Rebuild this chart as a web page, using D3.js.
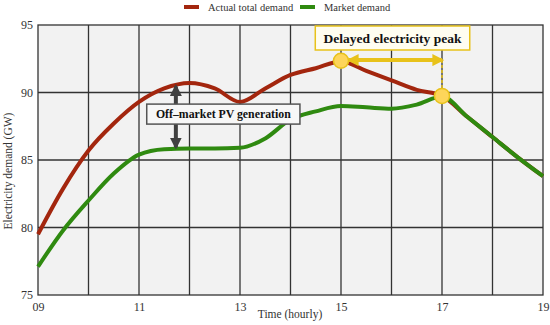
<!DOCTYPE html>
<html>
<head>
<meta charset="utf-8">
<script src="https://cdn.jsdelivr.net/npm/d3@7"></script>
<style>
  body { margin: 0; background: #fff; }
</style>
</head>
<body>
<svg width="550" height="325" style="font-family: 'Liberation Serif', 'Times New Roman', serif;"></svg>
<script>
// Data (hour, GW)
const hours = [9, 9.5, 10, 10.5, 11, 11.5, 12, 12.5, 13, 13.5, 14, 14.5, 15, 15.5, 16, 16.5, 17, 17.5, 18, 18.5, 19];
const actualDemand = [79.5, 82.9, 85.7, 87.7, 89.3, 90.3, 90.7, 90.3, 89.3, 90.3, 91.3, 91.8, 92.3, 91.6, 90.9, 90.2, 89.75, 88.2, 86.7, 85.2, 83.8];
const marketDemand = [77.1, 79.8, 82.0, 84.0, 85.4, 85.8, 85.85, 85.85, 85.9, 86.6, 88.0, 88.6, 89.0, 88.9, 88.8, 89.1, 89.7, 88.2, 86.7, 85.2, 83.8];
const xTickLabels = [9, 11, 13, 15, 17, 19];
const yTicks = [75, 80, 85, 90, 95];
const seriesNames = ["Actual total demand", "Market demand"];
const seriesColors = ["#a3260e", "#2f8a10"];
const peakPoints = [[15, 92.35], [17, 89.75]];

const FONT = "'Liberation Serif', 'Times New Roman', serif";

const svg = d3.select("svg"),
      margin = { top: 25, right: 7, bottom: 30, left: 38 },
      width = +svg.attr("width") - margin.left - margin.right,
      height = +svg.attr("height") - margin.top - margin.bottom;

const x = d3.scaleLinear().domain([9, 19]).range([0, width]);
const y = d3.scaleLinear().domain([75, 95]).range([height, 0]);

const g = svg.append("g").attr("transform", `translate(${margin.left},${margin.top})`);

// fond + grille
g.append("rect").attr("width", width).attr("height", height).attr("fill", "#f2f2f2");

g.append("g").selectAll("line")
  .data(d3.range(10, 19))
  .join("line")
  .attr("x1", d => x(d)).attr("x2", d => x(d))
  .attr("y1", 0).attr("y2", height)
  .attr("stroke", "#333").attr("stroke-width", 1.3);

g.append("g").selectAll("line")
  .data([80, 85, 90])
  .join("line")
  .attr("x1", 0).attr("x2", width)
  .attr("y1", d => y(d)).attr("y2", d => y(d))
  .attr("stroke", "#333").attr("stroke-width", 1.3);

g.append("rect").attr("width", width).attr("height", height)
  .attr("fill", "none").attr("stroke", "#333").attr("stroke-width", 1.3);

// axes (labels seulement)
const xAxis = g.append("g").attr("transform", `translate(0,${height})`)
  .call(d3.axisBottom(x).tickValues(xTickLabels).tickFormat(d3.format("02d")).tickSize(0).tickPadding(7));
const yAxis = g.append("g")
  .call(d3.axisLeft(y).tickValues(yTicks).tickSize(0).tickPadding(5));
[xAxis, yAxis].forEach(a => {
  a.attr("font-family", null);
  a.select(".domain").remove();
  a.selectAll("text").style("font-family", FONT).attr("font-size", 12).attr("fill", "#333");
});

svg.append("text")
  .attr("x", 290).attr("y", 318)
  .attr("text-anchor", "middle").attr("font-size", 11.5).attr("fill", "#333")
  .style("font-family", FONT)
  .text("Time (hourly)");

svg.append("text")
  .attr("transform", "translate(12,171) rotate(-90)")
  .attr("text-anchor", "middle").attr("font-size", 11.5).attr("fill", "#333")
  .style("font-family", FONT)
  .text("Electricity demand (GW)");

// courbes
const line = d3.line().x(d => x(d[0])).y(d => y(d[1])).curve(d3.curveMonotoneX);
[actualDemand, marketDemand].forEach((vals, i) => {
  g.append("path")
    .datum(hours.map((h, j) => [h, vals[j]]))
    .attr("d", line)
    .attr("fill", "none")
    .attr("stroke", seriesColors[i])
    .attr("stroke-width", 4)
    .attr("stroke-linejoin", "round");
});

// légende
const legendX = [184, 300];
seriesNames.forEach((name, i) => {
  svg.append("line")
    .attr("x1", legendX[i]).attr("x2", legendX[i] + 15)
    .attr("y1", 7).attr("y2", 7)
    .attr("stroke", seriesColors[i]).attr("stroke-width", 4);
  svg.append("text")
    .attr("x", legendX[i] + 24).attr("y", 11)
    .attr("font-size", 10.5).attr("fill", "#333")
    .style("font-family", FONT)
    .text(name);
});

// flèches
const defs = svg.append("defs");
function marker(id, color, w, h) {
  defs.append("marker")
    .attr("id", id).attr("viewBox", "0 0 10 10")
    .attr("refX", 8).attr("refY", 5)
    .attr("markerWidth", w).attr("markerHeight", h)
    .attr("markerUnits", "userSpaceOnUse")
    .attr("orient", "auto-start-reverse")
    .append("path").attr("d", "M0,0L10,5L0,10z").attr("fill", color);
}
marker("arrGray", "#404040", 12, 12);
marker("arrGold", "#e8c21a", 12, 12);

const pvX = x(11.73);
g.append("line")
  .attr("x1", pvX).attr("x2", pvX)
  .attr("y1", y(90.45)).attr("y2", y(85.95))
  .attr("stroke", "#404040").attr("stroke-width", 4)
  .attr("marker-start", "url(#arrGray)").attr("marker-end", "url(#arrGray)");

function labelBox(cx, cy, text, fontSize, padX, h, fill, stroke) {
  const box = g.append("rect");
  const t = g.append("text")
    .attr("x", cx).attr("y", cy)
    .attr("text-anchor", "middle").attr("dominant-baseline", "central")
    .attr("font-size", fontSize).attr("font-weight", "bold").attr("fill", "#111")
    .style("font-family", FONT)
    .text(text);
  const w = t.node().getBBox().width + padX * 2;
  box.attr("x", cx - w / 2).attr("y", cy - h / 2)
    .attr("width", w).attr("height", h)
    .attr("fill", fill).attr("stroke", stroke).attr("stroke-width", 1.5);
}
labelBox(x(12.67), y(88.4), "Off\u2013market PV generation", 11.8, 9, 20, "#f7f7f7", "#555");

// pic retardé
const goldY = y(92.4);
g.append("line")
  .attr("x1", x(17)).attr("x2", x(17))
  .attr("y1", goldY).attr("y2", y(89.75))
  .attr("stroke", "#e8c21a").attr("stroke-width", 1.5).attr("stroke-dasharray", "3,2");
g.append("line")
  .attr("x1", x(15) + 8).attr("x2", x(17))
  .attr("y1", goldY).attr("y2", goldY)
  .attr("stroke", "#e8c21a").attr("stroke-width", 4)
  .attr("marker-start", "url(#arrGold)").attr("marker-end", "url(#arrGold)");

g.selectAll(".peak")
  .data(peakPoints)
  .join("circle")
  .attr("class", "peak")
  .attr("cx", d => x(d[0])).attr("cy", d => y(d[1]))
  .attr("r", 7.5)
  .attr("fill", "#fdd55a").attr("stroke", "#e8c21a").attr("stroke-width", 1.5);

labelBox(x(16.02), 13, "Delayed electricity peak", 13.5, 8, 24, "#fffdf0", "#e8c21a");
</script>
</body>
</html>
